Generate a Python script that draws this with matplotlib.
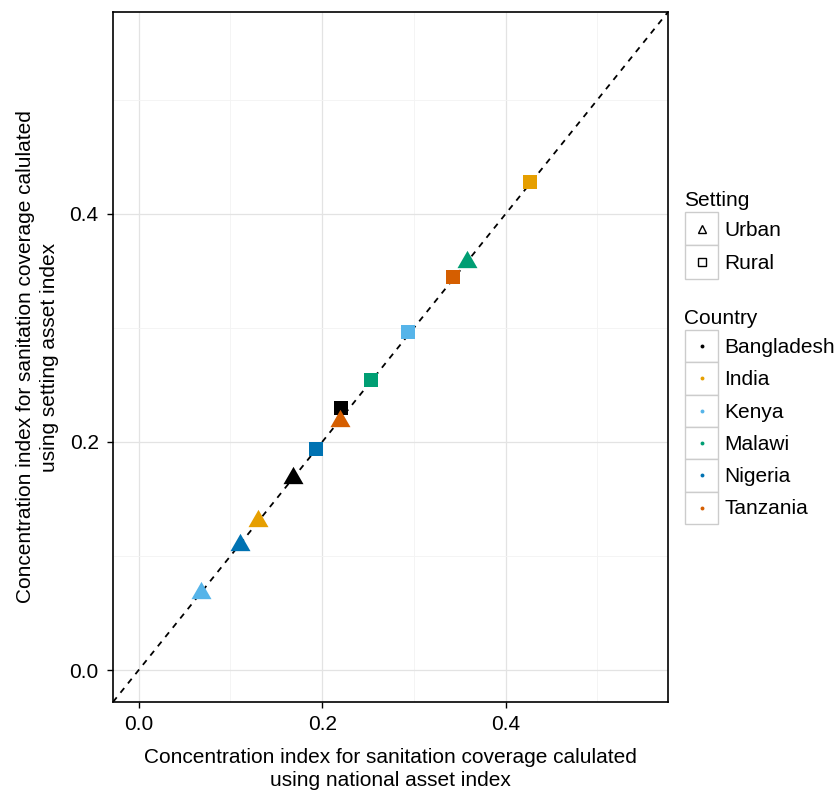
import matplotlib
matplotlib.use("Agg")
import matplotlib.pyplot as plt
import matplotlib.patches as patches
from matplotlib.ticker import MultipleLocator

plt.rcParams['font.family'] = ['Liberation Sans', 'DejaVu Sans']

# data
countries = ['Bangladesh', 'India', 'Kenya', 'Malawi', 'Nigeria', 'Tanzania']
colors = ['#000000', '#E69F00', '#56B4E9', '#009E73', '#0072B2', '#D55E00']
settings = ['Urban', 'Rural']

urban_national = [0.168, 0.130, 0.068, 0.358, 0.110, 0.219]
urban_setting = [0.171, 0.133, 0.070, 0.360, 0.112, 0.221]
rural_national = [0.220, 0.427, 0.294, 0.253, 0.193, 0.343]
rural_setting = [0.230, 0.428, 0.296, 0.254, 0.194, 0.345]

# equilateral triangle (ggplot shape 17)
tri = [(-1, -0.866), (1, -0.866), (0, 0.866), (-1, -0.866)]

FS = 15

fig = plt.figure(figsize=(8.38, 7.9), dpi=100)
ax = fig.add_axes([113 / 838, 88 / 790, 555 / 838, 690 / 790])

lo, hi = -0.028, 0.577
ax.set_xlim(lo, hi)
ax.set_ylim(lo, hi)

ax.xaxis.set_minor_locator(MultipleLocator(0.1))
ax.yaxis.set_minor_locator(MultipleLocator(0.1))
ax.grid(True, which='major', color='#e3e3e3', linewidth=0.9)
ax.grid(True, which='minor', color='#f3f3f3', linewidth=0.6)
ax.set_axisbelow(True)
ax.tick_params(which='minor', length=0)
ax.tick_params(which='major', direction='out', length=4.3, width=1.0,
               labelsize=FS, color='black')
ax.tick_params(axis='x', pad=4.8)
ax.tick_params(axis='y', pad=6)
ax.set_xticks([0.0, 0.2, 0.4])
ax.set_yticks([0.0, 0.2, 0.4])
ax.set_xticklabels(['0.0', '0.2', '0.4'])
ax.set_yticklabels(['0.0', '0.2', '0.4'])
for s in ax.spines.values():
    s.set_linewidth(1.2)

# identity line
ax.plot([lo, hi], [lo, hi], color='black', linewidth=1.3,
        linestyle=(0, (3.3, 3.3)), zorder=2)

for i, c in enumerate(countries):
    ax.plot(rural_national[i], rural_setting[i], marker='s', markersize=9.6,
            color=colors[i], markeredgewidth=0, linestyle='none', zorder=3)
for i, c in enumerate(countries):
    ax.plot(urban_national[i], urban_setting[i], marker=tri, markersize=14.4,
            color=colors[i], markeredgewidth=0, linestyle='none', zorder=4)

ax.set_xlabel('Concentration index for sanitation coverage calulated\nusing national asset index',
              fontsize=FS, labelpad=10, linespacing=1.32)
ax.set_ylabel('Concentration index for sanitation coverage calulated\nusing setting asset index',
              fontsize=FS, labelpad=7.5, linespacing=1.32)

# legend drawn in pixel space
lg = fig.add_axes([668 / 838, 0, 170 / 838, 1])
lg.set_xlim(668, 838)
lg.set_ylim(790, 0)
lg.axis('off')

kx0, kw, kh = 685, 33, 33.3

lg.text(684, 200, 'Setting', fontsize=FS, va='center', ha='left')
shapes = ['^', 's']
for j, name in enumerate(settings):
    y0 = 212 + j * kh
    lg.add_patch(patches.Rectangle((kx0, y0), kw, kh, facecolor='white',
                                   edgecolor='#cccccc', linewidth=1.0))
    lg.plot(kx0 + kw / 2, y0 + kh / 2, marker=shapes[j],
            markersize=6 if j == 0 else 5.2, markerfacecolor='none',
            markeredgecolor='black', markeredgewidth=1.0)
    lg.text(kx0 + kw + 6, y0 + kh / 2 + 1.5, name, fontsize=FS, va='center', ha='left')

lg.text(684, 318, 'Country', fontsize=FS, va='center', ha='left')
for j, name in enumerate(countries):
    y0 = 330 + j * 32.3
    lg.add_patch(patches.Rectangle((kx0, y0), kw, 32.3, facecolor='white',
                                   edgecolor='#cccccc', linewidth=1.0))
    lg.plot(kx0 + kw / 2, y0 + 16.15, marker='o', markersize=2.8,
            color=colors[j], markeredgewidth=0)
    lg.text(kx0 + kw + 6, y0 + 17.5, name, fontsize=FS, va='center', ha='left')

fig.savefig('out.png', dpi=100)
